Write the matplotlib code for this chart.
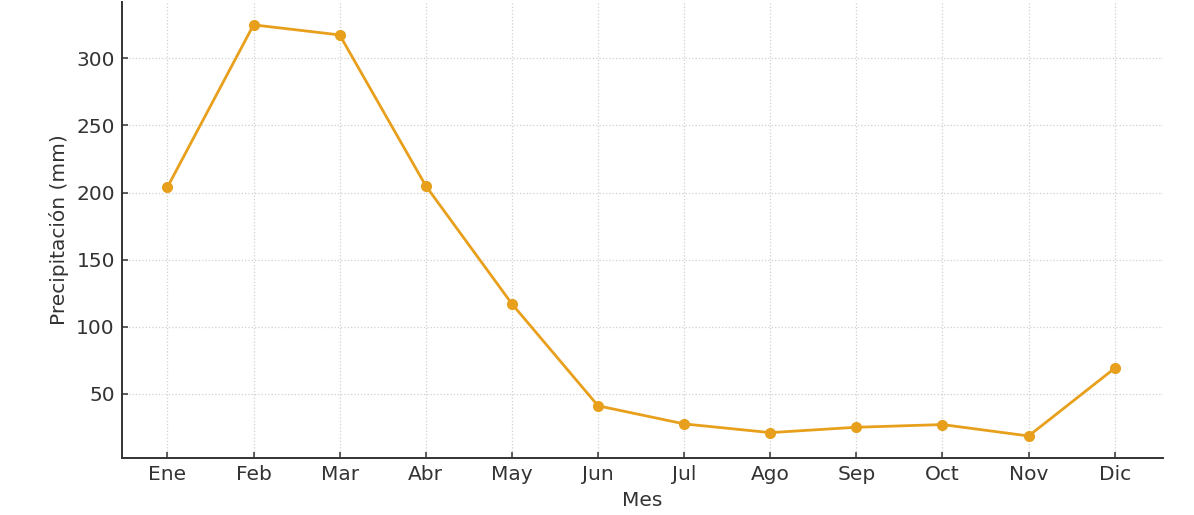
import matplotlib
matplotlib.use("Agg")
import matplotlib.pyplot as plt

meses = ["Ene", "Feb", "Mar", "Abr", "May", "Jun", "Jul", "Ago", "Sep", "Oct", "Nov", "Dic"]
precipitacion = [204, 325, 317.5, 205, 117, 41, 27.5, 21, 25, 27, 18.5, 69]
yticks = [50, 100, 150, 200, 250, 300]

plt.rcParams['font.family'] = ['DejaVu Sans']
fig = plt.figure(figsize=(11.94, 5.15), dpi=100)
ax = fig.add_axes([0.102, 0.111, 0.872, 0.885])

x = list(range(len(meses)))
ax.plot(x, precipitacion, color='#E8A01C', linewidth=2.0, marker='o', markersize=7)

ax.set_xticks(x)
ax.set_xticklabels(meses)
ax.set_yticks(yticks)
ax.set_xlim(-0.53, 11.56)
ax.set_ylim(2.2, 342)

ax.grid(True, linestyle=':', color='#d0d0d0', linewidth=0.9)
ax.set_axisbelow(True)
for s in ['top', 'right']:
    ax.spines[s].set_visible(False)
for s in ['left', 'bottom']:
    ax.spines[s].set_color('#333333')
    ax.spines[s].set_linewidth(1.4)

ax.tick_params(axis='both', labelsize=14.5, colors='#333333', length=4, width=1.1,
               direction='in', pad=5)
ax.set_xlabel("Mes", fontsize=14.5, color='#333333', labelpad=5)
ax.set_ylabel("Precipitación (mm)", fontsize=14.5, color='#333333', labelpad=5)

fig.savefig("out.png", dpi=100)
